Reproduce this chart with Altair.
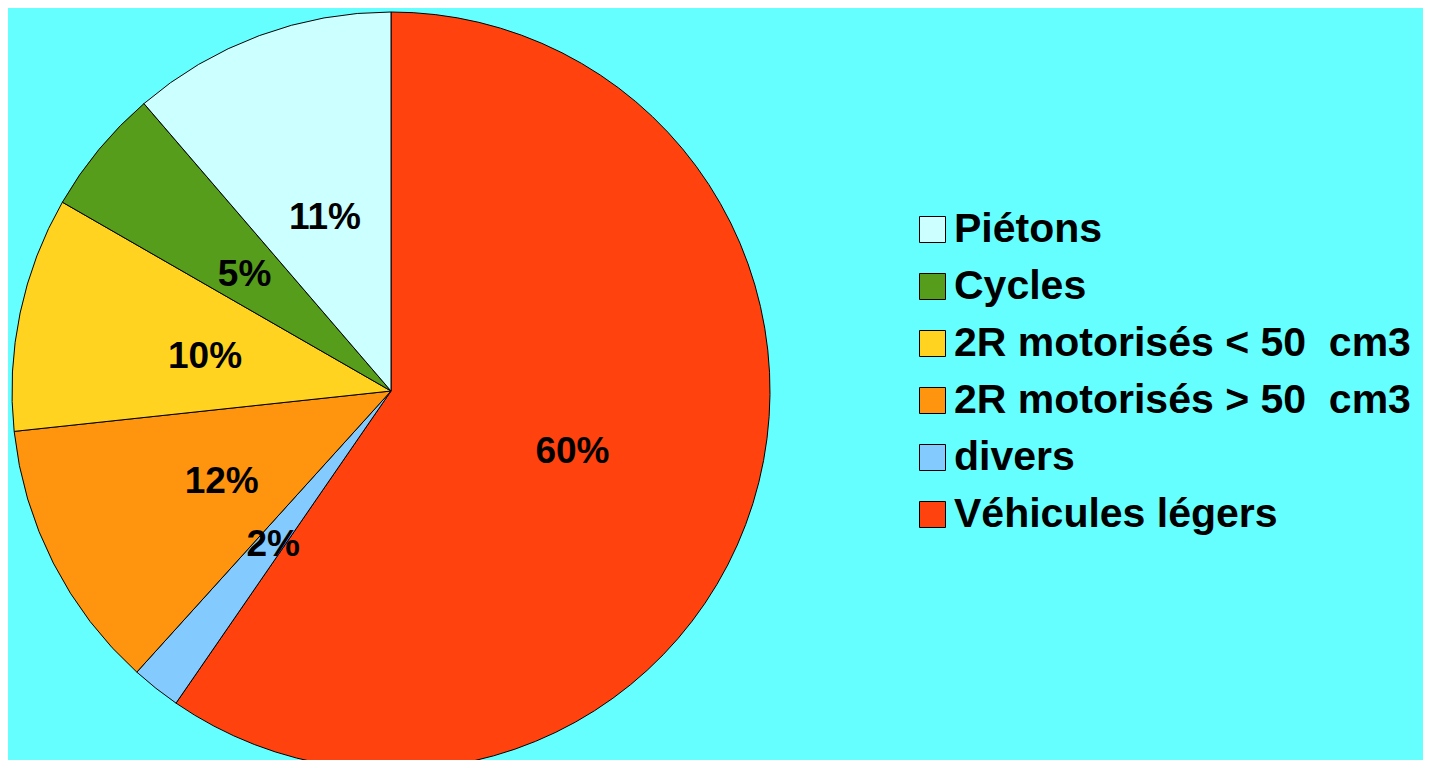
import altair as alt
import pandas as pd

NB = "\u00a0"
categories = ["Véhicules légers", "divers", "2R motorisés > 50" + NB + " cm3",
              "2R motorisés < 50" + NB + " cm3", "Cycles", "Piétons"]
values = [59.6, 2.1, 11.6, 10.0, 5.4, 11.3]
labels = ["60%", "2%", "12%", "10%", "5%", "11%"]
legend_order = ["Piétons", "Cycles", "2R motorisés < 50" + NB + " cm3",
                "2R motorisés > 50" + NB + " cm3", "divers", "Véhicules légers"]
legend_colors = ["#CCFFFF", "#579D1C", "#FFD320", "#FF950E", "#83CAFF", "#FF420E"]

df = pd.DataFrame({
    "cat": categories,
    "value": values,
    "label": labels,
    "ord": list(range(len(categories))),
})

CX, CY, R = 383, 383, 379

base = alt.Chart(df).encode(
    theta=alt.Theta("value:Q", stack=True),
    order=alt.Order("ord:Q"),
    x=alt.value(CX),
    y=alt.value(CY),
)

arcs = base.mark_arc(radius=R, stroke="black", strokeWidth=1).encode(
    color=alt.Color(
        "cat:N",
        scale=alt.Scale(domain=legend_order, range=legend_colors),
        legend=alt.Legend(
            title=None,
            orient="none",
            legendX=904,
            legendY=201,
            symbolType="square",
            symbolSize=676,
            symbolStrokeColor="black",
            symbolStrokeWidth=1,
            symbolOpacity=1,
            labelFont="Liberation Sans",
            labelFontWeight="bold",
            labelFontSize=41,
            labelColor="black",
            labelOffset=1,
            labelLimit=700,
            rowPadding=15,
            padding=0,
        ),
    )
)

text = base.mark_text(
    radius=190, font="Liberation Sans", fontWeight="bold", fontSize=37,
    color="black", align="center", baseline="middle", dy=5
).encode(text="label:N")

chart = alt.layer(arcs, text).properties(
    width=1415, height=752,
    autosize=alt.AutoSizeParams(type="none"),
    padding=0,
    background="#66FFFF",
).configure_view(stroke=None)

chart.save("out.html", embed_options={"renderer": "svg", "actions": False})
